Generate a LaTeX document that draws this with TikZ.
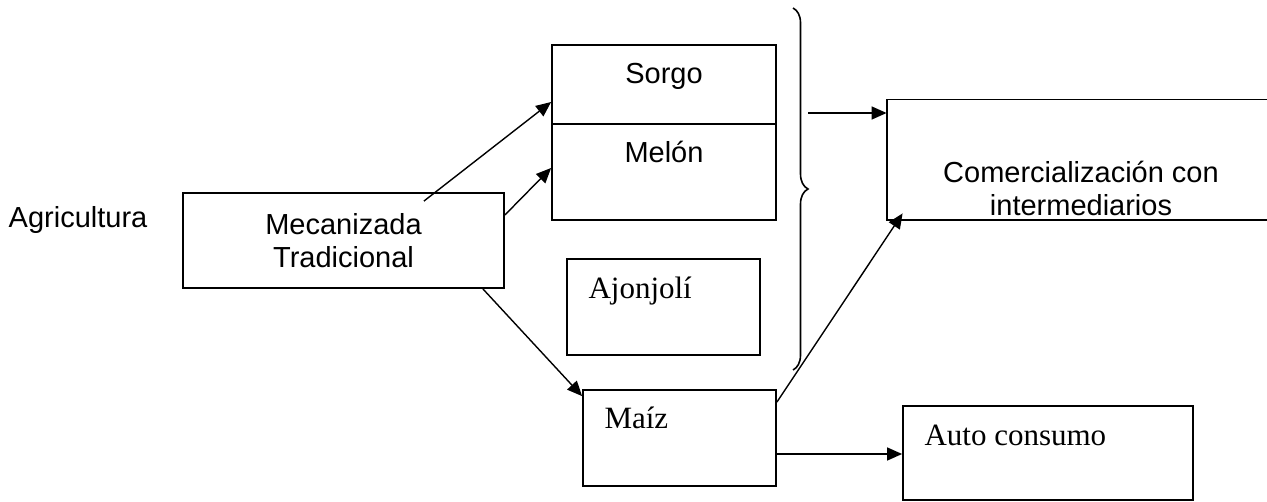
\documentclass[tikz,border=0pt]{standalone}
\usepackage{fontspec}
\setmainfont{Liberation Serif}
\setsansfont{Liberation Sans}
\usetikzlibrary{arrows.meta}
\usetikzlibrary{decorations.pathreplacing}
\tikzset{
    sans/.style={font=\sffamily\fontsize{14.5}{16.5}\selectfont},
    serif/.style={font=\rmfamily\fontsize{15.5}{18}\selectfont},
    box/.style={draw, rectangle, line width=0.9pt, inner sep=0pt},
    croptext/.style={sans, anchor=center, inner sep=0pt},
    usetext/.style={serif, anchor=west, inner sep=0pt, xshift=11pt},
    arr/.style={-{Triangle[length=7.5pt,width=6.5pt]}, line width=0.7pt},
    bracket/.style={decorate, decoration={brace, amplitude=7.5pt}, line width=0.8pt}
}
\begin{document}
\begin{tikzpicture}[x=0.5pt, y=-0.5pt]
    \useasboundingbox (0,0) rectangle (1267,502);

    \node[sans] (agri) at (78,220) {Agricultura};
    \node[box, sans, align=center, minimum width=160.5pt, minimum height=47.5pt] (mec) at (343.5,240.5)
        {Mecanizada\\Tradicional};

    % crops
    \node[box, minimum width=112pt, minimum height=39.5pt,
          label={[croptext, yshift=-16pt]north:Sorgo}] (sorgo) at (664,84.5) {};
    \node[box, minimum width=112pt, minimum height=48pt,
          label={[croptext, yshift=-14.5pt]north:Melón}] (melon) at (664,172) {};
    \node[box, minimum width=96.5pt, minimum height=48pt,
          label={[usetext, yshift=-16.5pt]north west:Ajonjolí}] (ajonjoli) at (663.5,307) {};
    \node[box, minimum width=96.5pt, minimum height=48pt,
          label={[usetext, yshift=-14.5pt]north west:Maíz}] (maiz) at (679.5,438) {};

    % destinations
    \node[minimum width=190pt, minimum height=60pt, inner sep=0pt,
          label={[sans, align=center, anchor=center, xshift=2pt, yshift=-14pt]center:Comercialización con\\intermediarios}]
          (comer) at (1077,160) {};
    \draw[line width=0.9pt] (comer.north east) -- (comer.north west) -- (comer.south west) -- (comer.south east);
    \node[box, minimum width=145pt, minimum height=47pt,
          label={[usetext, yshift=-15.25pt]north west:Auto consumo}] (auto) at (1048,453) {};

    \coordinate (btop) at (793,8);
    \coordinate (bbot) at (793,370);
    \coordinate (bout) at (808,113);
    \draw[bracket] (btop) -- (bbot);

    \draw[arr] ([xshift=-40.5pt,yshift=-4.5pt]mec.north east) -- ([yshift=-8.75pt]sorgo.west);
    \draw[arr] ([yshift=12.75pt]mec.east) -- ([yshift=2pt]melon.west);
    \draw[arr] ([xshift=-11pt]mec.south east) -- ([yshift=-3.5pt]maiz.north west);
    \draw[arr] (bout) -- (bout -| comer.west);
    \draw[arr] ([yshift=-6.5pt]maiz.north east) -- ([shift={(8pt,3.5pt)}]comer.south west);
    \draw[arr] ([yshift=-8pt]maiz.east) -- ([yshift=-8pt]maiz.east -| auto.west);
\end{tikzpicture}
\end{document}
